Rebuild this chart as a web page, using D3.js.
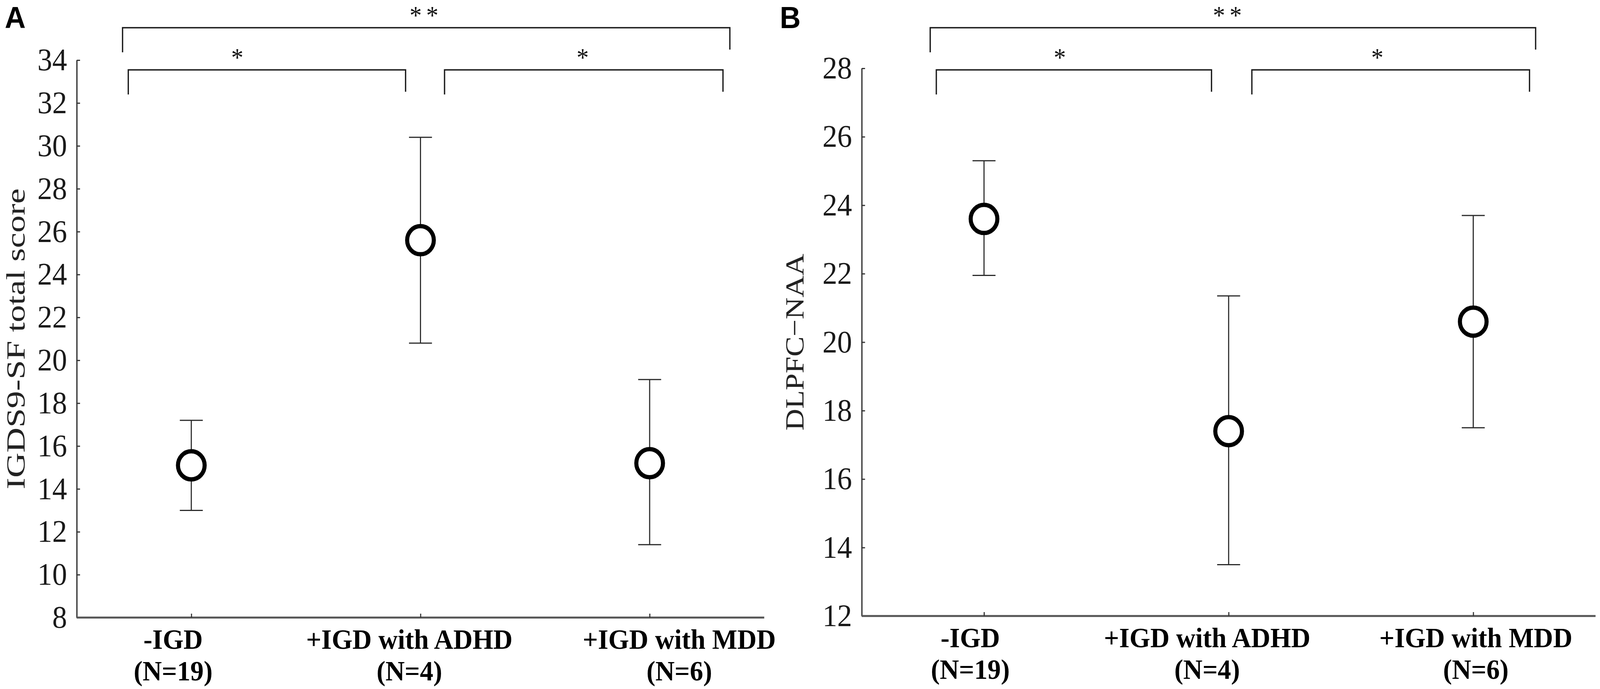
<!DOCTYPE html>
<html>
<head>
<meta charset="utf-8">
<script src="https://cdn.jsdelivr.net/npm/d3@7"></script>
<style>
  html, body { margin: 0; padding: 0; width: 100%; height: 100%; overflow: hidden; background: #fff; }
  #chart { width: 100%; height: 100%; }
  svg { display: block; width: 100%; height: 100%; background: #fff; }
</style>
</head>
<body>
<div id="chart"></div>
<script>
// group names shared by both panels
var categories = ["-IGD", "+IGD with ADHD", "+IGD with MDD"];
var groupSizes = ["(N=19)", "(N=4)", "(N=6)"];

// panel A: IGDS9-SF total score
var igdsMean  = [15.1, 25.6, 15.2];
var igdsLower = [13.0, 20.8, 11.4];
var igdsUpper = [17.2, 30.4, 19.1];
var igdsTicks = [8, 10, 12, 14, 16, 18, 20, 22, 24, 26, 28, 30, 32, 34];

// panel B: DLPFC-NAA
var naaMean  = [23.6, 17.4, 20.6];
var naaLower = [21.95, 13.5, 17.5];
var naaUpper = [25.3, 21.35, 23.7];
var naaTicks = [12, 14, 16, 18, 20, 22, 24, 26, 28];

// significance marks: outer bracket first, then the two inner ones
var sigLabels = ["**", "*", "*"];

var width = 4317, height = 1765;

// drawn in a fixed 4317x1765 frame, scaled to whatever the window really is
var svg = d3.select("#chart")
            .append("svg")
            .attr("viewBox", "0 0 " + width + " " + height)
            .attr("preserveAspectRatio", "none");

// layout per panel (pixels); bracket spans are in category steps from the first group
var panels = [
  { letter: "A", letterX: 13, title: "IGDS9-SF total score", titleLen: 771, titleX: 66,
    mean: igdsMean, lower: igdsLower, upper: igdsUpper, ticks: igdsTicks,
    left: 207, right: 2062, top: 154, bottom: 1582,
    labelShift: [-49, -30, 80],
    spans: [[-0.30, 2.35, 0], [-0.275, 0.935, -80], [1.105, 2.32, -3]] },
  { letter: "B", letterX: 2104, title: "DLPFC\u2212NAA", titleLen: 453, titleX: 2168,
    mean: naaMean, lower: naaLower, upper: naaUpper, ticks: naaTicks,
    left: 2325, right: 4305, top: 175, bottom: 1578,
    labelShift: [-37, -58, 7],
    spans: [[-0.22, 2.255, -9], [-0.195, 0.93, -38], [1.095, 2.23, -36]] }
];

panels.forEach(function (p) {
  var g = svg.append("g");

  var x = d3.scalePoint()
            .domain(categories)
            .range([p.left, p.right])
            .padding(0.5);

  var y = d3.scaleLinear()
            .domain([p.ticks[0], p.ticks[p.ticks.length - 1]])
            .range([p.bottom, p.top]);

  // y axis, ticks pointing inward
  var yAxis = g.append("g")
               .attr("transform", "translate(" + p.left + ",0)")
               .call(d3.axisLeft(y).tickValues(p.ticks).tickSizeInner(-9).tickSizeOuter(0).tickPadding(26));
  yAxis.select(".domain").attr("stroke", "#4a4a4a").attr("stroke-width", 4);
  yAxis.selectAll(".tick line").attr("stroke", "#333").attr("stroke-width", 3);
  yAxis.selectAll(".tick text")
       .attr("font-family", "'Liberation Serif', serif")
       .attr("font-size", 80)
       .attr("fill", "#1a1a1a");

  // x axis, no text labels from the axis itself
  var xAxis = g.append("g")
               .attr("transform", "translate(0," + p.bottom + ")")
               .call(d3.axisBottom(x).tickSizeInner(-10).tickSizeOuter(0).tickFormat(""));
  xAxis.select(".domain")
       .attr("d", "M" + p.left + ",0H" + p.right)
       .attr("stroke", "#555").attr("stroke-width", 5);
  xAxis.selectAll(".tick line").attr("stroke", "#333").attr("stroke-width", 3);

  // two-line bold group labels
  g.selectAll(".grp")
   .data(categories)
   .enter().append("text")
   .attr("class", "grp")
   .attr("text-anchor", "middle")
   .attr("font-family", "'Liberation Serif', serif")
   .attr("font-weight", "bold")
   .attr("font-size", 72)
   .attr("fill", "#000")
   .attr("x", function (d, i) { return x(d) + p.labelShift[i]; })
   .attr("y", p.bottom + 80)
   .text(function (d) { return d; });
  g.selectAll(".grpn")
   .data(groupSizes)
   .enter().append("text")
   .attr("class", "grpn")
   .attr("text-anchor", "middle")
   .attr("font-family", "'Liberation Serif', serif")
   .attr("font-weight", "bold")
   .attr("font-size", 72)
   .attr("fill", "#000")
   .attr("x", function (d, i) { return x(categories[i]) + p.labelShift[i]; })
   .attr("y", p.bottom + 161)
   .text(function (d) { return d; });

  // y axis title
  g.append("text")
   .attr("transform", "translate(" + p.titleX + "," + (p.top + p.bottom) / 2 + ") rotate(-90)")
   .attr("text-anchor", "middle")
   .attr("font-family", "'Liberation Serif', serif")
   .attr("font-size", 72)
   .attr("fill", "#222")
   .attr("textLength", p.titleLen)
   .attr("lengthAdjust", "spacingAndGlyphs")
   .text(p.title);

  // panel letter
  g.append("text")
   .attr("x", p.letterX)
   .attr("y", 72)
   .attr("font-family", "'Liberation Sans', Arial, sans-serif")
   .attr("font-weight", "bold")
   .attr("font-size", 78)
   .text(p.letter);

  // error bars
  var bars = g.selectAll(".err")
              .data(categories)
              .enter().append("g")
              .attr("class", "err")
              .attr("stroke", "#2a2a2a")
              .attr("stroke-width", 3);
  bars.append("line")
      .attr("x1", function (d) { return x(d); })
      .attr("x2", function (d) { return x(d); })
      .attr("y1", function (d, i) { return y(p.lower[i]); })
      .attr("y2", function (d, i) { return y(p.upper[i]); });
  bars.append("line")
      .attr("x1", function (d) { return x(d) - 31; })
      .attr("x2", function (d) { return x(d) + 31; })
      .attr("y1", function (d, i) { return y(p.upper[i]); })
      .attr("y2", function (d, i) { return y(p.upper[i]); });
  bars.append("line")
      .attr("x1", function (d) { return x(d) - 31; })
      .attr("x2", function (d) { return x(d) + 31; })
      .attr("y1", function (d, i) { return y(p.lower[i]); })
      .attr("y2", function (d, i) { return y(p.lower[i]); });

  // mean markers
  g.selectAll(".mean")
   .data(categories)
   .enter().append("circle")
   .attr("class", "mean")
   .attr("cx", function (d) { return x(d); })
   .attr("cy", function (d, i) { return y(p.mean[i]); })
   .attr("r", 36)
   .attr("fill", "#fff")
   .attr("stroke", "#000")
   .attr("stroke-width", 11);

  // significance brackets
  var first = x(categories[0]), step = x.step();
  var levels = [71, 179];
  p.spans.forEach(function (s, k) {
    var x0 = first + s[0] * step, x1 = first + s[1] * step;
    var top = levels[k === 0 ? 0 : 1];
    g.append("path")
     .attr("d", "M" + x0 + "," + (top + 63) + "V" + top + "H" + x1 + "V" + (top + 56))
     .attr("fill", "none")
     .attr("stroke", "#1a1a1a")
     .attr("stroke-width", 3.5);
    g.append("text")
     .attr("x", (x0 + x1) / 2 + s[2])
     .attr("y", top - 42 + 32)
     .attr("text-anchor", "middle")
     .attr("font-family", "'Liberation Serif', serif")
     .attr("font-size", 66)
     .attr("letter-spacing", k === 0 ? 12 : 0)
     .attr("fill", "#111")
     .text(sigLabels[k]);
  });
});
</script>
</body>
</html>
